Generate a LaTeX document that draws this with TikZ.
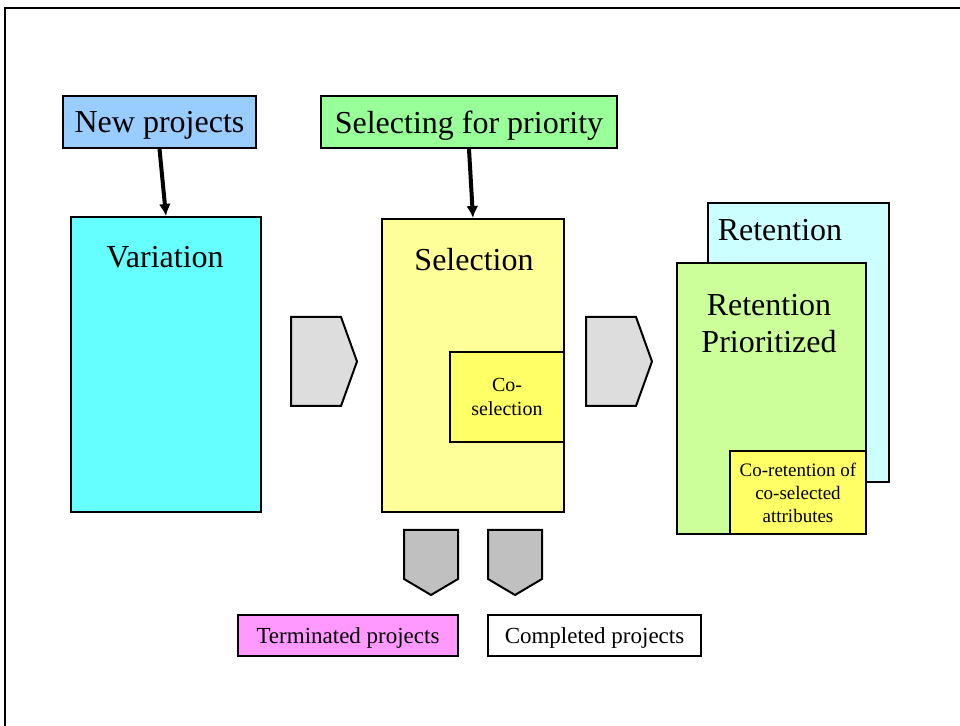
\documentclass[tikz,border=0pt]{standalone}
\usepackage{fontspec}
\setmainfont{Liberation Serif}
\usepackage{tikz}
\usetikzlibrary{shapes.geometric, arrows, arrows.meta}
\usepackage{color,xcolor}

\definecolor{newblue}{HTML}{99CCFF}
\definecolor{prioGreen}{HTML}{99FF99}
\definecolor{varCyan}{HTML}{66FFFF}
\definecolor{selYellow}{HTML}{FFFF99}
\definecolor{coYellow}{HTML}{FFFF66}
\definecolor{retCyan}{HTML}{CCFFFF}
\definecolor{retGreen}{HTML}{CCFF99}
\definecolor{termPink}{HTML}{FF99FF}
\definecolor{arrGrey}{HTML}{DDDDDD}
\definecolor{downGrey}{HTML}{C0C0C0}

\begin{document}
\begin{tikzpicture}[x=0.5pt,y=-0.5pt,
  box/.style={draw,line width=1pt,inner sep=0pt},
  bigtext/.style={font=\fontsize{16}{18.5}\selectfont},
  smalltext/.style={font=\fontsize{11.5}{13}\selectfont},
  tinytext/.style={font=\fontsize{9.5}{11.5}\selectfont,align=center},
  blockarrow/.style={draw,line width=1pt,line join=miter},
  feed/.style={-{Latex[length=6pt,width=6pt]},line width=2pt}]
\useasboundingbox (0,0) rectangle (960,726);
\draw[line width=1pt] (5,726) -- (5,8) -- (960,8);
% \draw[densely dotted,step=50] (0,0) grid (960,726);

\node[box,fill=newblue,minimum width=96.5pt,minimum height=26pt,bigtext,text depth=0pt] (newproj) at (159.5,122) {New projects};
\node[box,fill=prioGreen,minimum width=148pt,minimum height=26pt,bigtext,text depth=0pt] (selprio) at (469,122) {Selecting for priority};

\node[box,fill=varCyan,minimum width=95pt,minimum height=147.5pt] (variation) at (166,364.5) {};
\node[bigtext] (vartitle) at (165,257) {Variation};

\node[box,fill=selYellow,minimum width=91pt,minimum height=146.5pt] (selection) at (473,365.5) {};
\node[bigtext] (seltitle) at (474,260) {Selection};
\node[box,fill=coYellow,minimum width=57pt,minimum height=45pt,tinytext,font=\fontsize{10}{12}\selectfont] (cosel) at (507,397) {Co-\\selection};

\node[box,line width=0.8pt,fill=retCyan,minimum width=90.5pt,minimum height=139.5pt] (retention) at (798.5,342.5) {};
\node[bigtext] (rettitle) at (780,230) {Retention};
\node[box,line width=0.8pt,fill=retGreen,minimum width=94.5pt,minimum height=135.5pt] (retprio) at (771.5,398.5) {};
\node[bigtext,align=center] (retpriotitle) at (769,324) {Retention\\Prioritized};
\node[box,line width=0.8pt,fill=coYellow,minimum width=68pt,minimum height=41.5pt,tinytext] (coret) at (798,492.5) {Co-retention of\\co-selected\\attributes};

\node[box,fill=termPink,minimum width=110pt,minimum height=20.5pt,smalltext,text depth=0pt] (term) at (348,635.5) {Terminated projects};
\node[box,fill=white,minimum width=106.5pt,minimum height=20.5pt,smalltext,text depth=0pt] (compl) at (594.5,635.5) {Completed projects};

\draw[feed] (newproj.south) -- (variation.north);
\draw[feed] (selprio.south) -- (selection.north);

\foreach \x in {291,586}
  \draw[blockarrow,fill=arrGrey] (\x,317) -- (\x+50,317) -- (\x+66,361.5) -- (\x+50,406) -- (\x,406) -- cycle;
\foreach \x in {404,488}
  \draw[blockarrow,fill=downGrey] (\x,530) -- (\x+54,530) -- (\x+54,579) -- (\x+27,595) -- (\x,579) -- cycle;
\end{tikzpicture}
\end{document}
